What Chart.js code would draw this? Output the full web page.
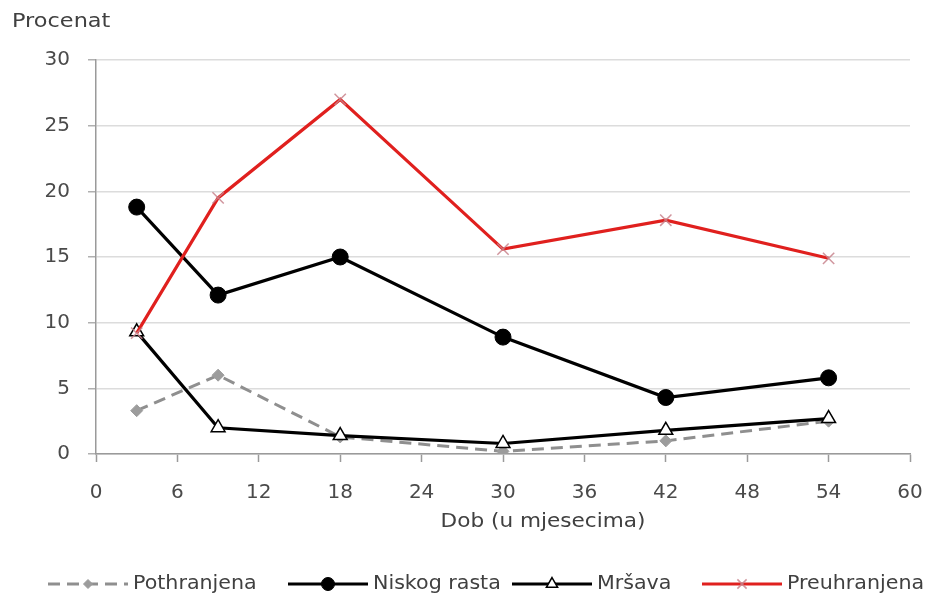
<!DOCTYPE html>
<html lang="bs">
<head>
<meta charset="utf-8">
<title>Procenat po dobi</title>
<script src="https://cdn.jsdelivr.net/npm/chart.js@4/dist/chart.umd.min.js"></script>
<style>
  html, body { margin: 0; padding: 0; background: #ffffff; }
  #wrap { width: 937px; height: 595px; position: relative; }
</style>
</head>
<body>
<div id="wrap"><canvas id="chart" width="937" height="595"></canvas></div>
<script>
// Age in months at each survey point
const ages = [3, 9, 18, 30, 42, 54];

// Percentages per nutritional status
const pothranjena  = [3.3, 6.0, 1.3, 0.2, 1.0, 2.5];
const niskogRasta  = [18.8, 12.1, 15.0, 8.9, 4.3, 5.8];
const mrsava       = [9.3, 2.0, 1.4, 0.8, 1.8, 2.7];
const preuhranjena = [9.2, 19.5, 27.0, 15.6, 17.8, 14.9];

const seriesNames = ['Pothranjena', 'Niskog rasta', 'Mršava', 'Preuhranjena'];

// Axis ticks
const xTickValues = [0, 6, 12, 18, 24, 30, 36, 42, 48, 54, 60];
const yTickValues = [0, 5, 10, 15, 20, 25, 30];

const axisTitleX = 'Dob (u mjesecima)';
const axisTitleY = 'Procenat';

const FONT = "'DejaVu Sans', 'Open Sans', sans-serif";
const TEXT = '#404040';

function toPoints(values) {
  return ages.map((a, i) => ({ x: a, y: values[i] }));
}

function drawText(ctx, text, x, y, size, align, stretch) {
  ctx.save();
  ctx.font = size + 'px ' + FONT;
  ctx.fillStyle = TEXT;
  ctx.textBaseline = 'middle';
  ctx.textAlign = align;
  ctx.translate(x, y);
  ctx.scale(stretch, 1);
  ctx.fillText(text, 0, 0);
  ctx.restore();
}

// Legend along the bottom (line sample with marker, then the name) and axis captions
const captionsPlugin = {
  id: 'captions',
  afterDraw(chart) {
    const ctx = chart.ctx;
    const starts = [48, 288, 512, 702];
    const sampleLen = 80;
    const y = 584;
    chart.data.datasets.forEach((ds, i) => {
      const x0 = starts[i];
      const x1 = x0 + sampleLen;
      ctx.save();
      ctx.strokeStyle = ds.borderColor;
      ctx.lineWidth = ds.borderWidth;
      ctx.setLineDash(ds.borderDash || []);
      ctx.beginPath();
      ctx.moveTo(x0, y);
      ctx.lineTo(x1, y);
      ctx.stroke();
      ctx.restore();

      ctx.save();
      ctx.fillStyle = ds.pointBackgroundColor;
      ctx.strokeStyle = ds.pointBorderColor;
      ctx.lineWidth = ds.pointBorderWidth;
      ctx.setLineDash([]);
      Chart.helpers.drawPoint(ctx, {
        pointStyle: ds.pointStyle,
        radius: ds.pointRadius - 1.5,
        rotation: 0,
        borderWidth: ds.pointBorderWidth
      }, (x0 + x1) / 2, y);
      ctx.restore();

      drawText(ctx, ds.label, x1 + 5, y, 20, 'left', 1.03);
    });

    // value axis caption, horizontal above the axis
    drawText(ctx, axisTitleY, 12, 22, 20, 'left', 1.12);
    // category axis caption under the tick labels
    drawText(ctx, axisTitleX, 543, 522, 20, 'center', 1.08);
  }
};

const chart = new Chart(document.getElementById('chart'), {
  type: 'line',
  data: {
    datasets: [
      {
        label: seriesNames[0],
        data: toPoints(pothranjena),
        order: 4,
        borderColor: '#8f8f8f',
        borderWidth: 3,
        borderDash: [12, 7],
        pointStyle: 'rectRot',
        pointRadius: 6,
        pointBackgroundColor: '#9c9c9c',
        pointBorderColor: '#9c9c9c',
        pointBorderWidth: 1
      },
      {
        label: seriesNames[1],
        data: toPoints(niskogRasta),
        order: 3,
        borderColor: '#000000',
        borderWidth: 3.2,
        pointStyle: 'circle',
        pointRadius: 8,
        pointBackgroundColor: '#000000',
        pointBorderColor: '#000000',
        pointBorderWidth: 1
      },
      {
        label: seriesNames[2],
        data: toPoints(mrsava),
        order: 2,
        borderColor: '#000000',
        borderWidth: 3.2,
        pointStyle: 'triangle',
        pointRadius: 8,
        pointBackgroundColor: '#ffffff',
        pointBorderColor: '#000000',
        pointBorderWidth: 1.5
      },
      {
        label: seriesNames[3],
        data: toPoints(preuhranjena),
        order: 1,
        borderColor: '#e0201e',
        borderWidth: 3.2,
        pointStyle: 'crossRot',
        pointRadius: 8,
        pointBackgroundColor: 'rgba(0,0,0,0)',
        pointBorderColor: 'rgba(200,130,140,0.85)',
        pointBorderWidth: 1.5
      }
    ]
  },
  options: {
    responsive: false,
    animation: false,
    devicePixelRatio: 1,
    layout: { padding: { left: 0, right: 27, top: 60, bottom: 63 } },
    elements: { line: { tension: 0 } },
    plugins: {
      legend: { display: false },
      title: { display: false },
      tooltip: { enabled: false }
    },
    scales: {
      x: {
        type: 'linear',
        min: 0,
        max: 60,
        afterFit(scale) {
          scale.height = 78;
          scale.paddingLeft = 0;
          scale.paddingRight = 0;
        },
        afterBuildTicks(scale) { scale.ticks = xTickValues.map(v => ({ value: v })); },
        ticks: {
          font: { family: FONT, size: 20 },
          color: '#4a4a4a',
          padding: 19,
          maxRotation: 0,
          autoSkip: false
        },
        grid: {
          drawOnChartArea: false,
          drawTicks: true,
          tickLength: 8,
          tickColor: '#9a9a9a',
          tickWidth: 1.5
        },
        border: { display: true, color: '#9a9a9a', width: 1.5 }
      },
      y: {
        type: 'linear',
        min: 0,
        max: 30,
        afterFit(scale) {
          scale.width = 96;
          scale.paddingTop = 0;
          scale.paddingBottom = 0;
        },
        afterBuildTicks(scale) { scale.ticks = yTickValues.map(v => ({ value: v })); },
        ticks: {
          font: { family: FONT, size: 20 },
          color: '#4a4a4a',
          padding: 18
        },
        grid: {
          color: '#dcdcdc',
          lineWidth: 1.5,
          drawTicks: true,
          tickLength: 8,
          tickColor: '#b0b0b0'
        },
        border: { display: true, color: '#9a9a9a', width: 1.5 }
      }
    }
  },
  plugins: [captionsPlugin]
});
</script>
</body>
</html>
